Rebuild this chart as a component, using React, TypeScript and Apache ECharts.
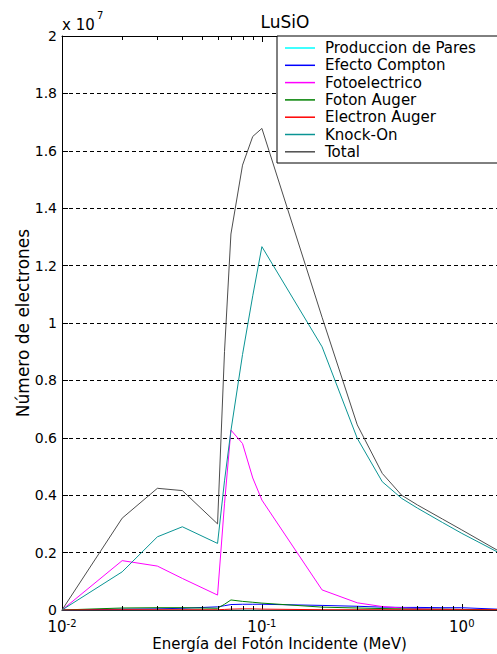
import React, { useEffect, useRef } from "react";
import * as echarts from "echarts";

const FONT = "DejaVu Sans";

const energies = [0.01, 0.02, 0.03, 0.04, 0.06, 0.065, 0.07, 0.08, 0.09, 0.1, 0.2, 0.3, 0.4, 0.5, 0.6, 0.8, 1.0, 1.5];

// values in units of 10^7 electrons
const produccionPares = [0, 0, 0, 0, 0, 0, 0, 0, 0, 0, 0, 0, 0, 0, 0, 0, 0, 0.001];
const efectoCompton = [0, 0.003, 0.004, 0.006, 0.011, 0.015, 0.019, 0.02, 0.02, 0.02, 0.016, 0.013, 0.01, 0.009, 0.009, 0.008, 0.008, 0.003];
const fotoelectrico = [0, 0.172, 0.153, 0.11, 0.052, 0.37, 0.627, 0.58, 0.46, 0.383, 0.07, 0.025, 0.012, 0.007, 0.005, 0.003, 0.002, 0.001];
const fotonAuger = [0, 0.007, 0.008, 0.008, 0.006, 0.02, 0.035, 0.03, 0.027, 0.024, 0.01, 0.007, 0.005, 0.004, 0.003, 0.003, 0.002, 0.001];
const electronAuger = [0, 0.001, 0.001, 0.001, 0.001, 0.002, 0.003, 0.004, 0.004, 0.003, 0.001, 0.001, 0.001, 0.001, 0.001, 0.001, 0.001, 0.001];
const knockOn = [0, 0.133, 0.255, 0.29, 0.232, 0.45, 0.625, 0.89, 1.095, 1.266, 0.917, 0.598, 0.447, 0.389, 0.355, 0.305, 0.267, 0.203];
const total = [0, 0.32, 0.424, 0.416, 0.3, 0.9, 1.31, 1.55, 1.65, 1.678, 1.02, 0.645, 0.476, 0.4, 0.366, 0.317, 0.279, 0.209];

const seriesNames = ["Produccion de Pares", "Efecto Compton", "Fotoelectrico", "Foton Auger", "Electron Auger", "Knock-On", "Total"];
const seriesValues = [produccionPares, efectoCompton, fotoelectrico, fotonAuger, electronAuger, knockOn, total];
const seriesColors = ["#00ffff", "#0000ff", "#ff00ff", "#008000", "#ff0000", "#0a9494", "#4d4d4d"];

const minorTickValues = [0.02, 0.03, 0.04, 0.05, 0.06, 0.07, 0.08, 0.09, 0.2, 0.3, 0.4, 0.5, 0.6, 0.7, 0.8, 0.9];

const SCALE = 1e7;
const X_MIN = 0.01;
const X_MAX = 1.5;
const Y_MAX = 2e7;
const Y_STEP = 2e6;

function expLabel(v: number): string {
  const e = Math.log10(v);
  if (Math.abs(e - Math.round(e)) > 1e-6) return "";
  return `{b|10}{s|${Math.round(e)}}`;
}

export default function App() {
  const ref = useRef<HTMLDivElement>(null);
  useEffect(() => {
    if (!ref.current) return;
    const chart = echarts.init(ref.current, undefined, { renderer: "svg" });
    const lineSeries = seriesNames.map((name, i) => ({
      name,
      type: "line",
      symbol: "none",
      color: seriesColors[i],
      itemStyle: { color: seriesColors[i] },
      lineStyle: { width: 1, color: seriesColors[i] },
      data: energies.map((e, j) => [e, seriesValues[i][j] * SCALE]),
      z: 3 + i,
    }));
    chart.setOption({
      animation: false,
      backgroundColor: "#ffffff",
      title: {
        text: "LuSiO",
        left: 280,
        top: 8,
        textAlign: "center",
        textStyle: { fontFamily: FONT, fontSize: 17, fontWeight: "normal", color: "#000" },
      },
      graphic: [
        {
          type: "text",
          left: 62,
          top: 17,
          style: { text: "x 10", font: `15px "${FONT}"`, fill: "#000" },
        },
        {
          type: "text",
          left: 97,
          top: 10,
          style: { text: "7", font: `10px "${FONT}"`, fill: "#000" },
        },
      ],
      grid: { left: 62, right: 0, top: 36, bottom: 44, containLabel: false, outerBoundsMode: "none" },
      legend: {
        data: seriesNames,
        orient: "vertical",
        left: 277,
        top: 36,
        itemWidth: 30,
        itemHeight: 15,
        itemGap: 2.3,
        icon: "path://M0,0H30V1.5H0Z",
        padding: [4.5, 24.5, 3.7, 8],
        backgroundColor: "#ffffff",
        borderColor: "#000",
        borderWidth: 1,
        borderRadius: 0,
        textStyle: { fontFamily: FONT, fontSize: 15, color: "#000", padding: [0, 0, 0, 5] },
        z: 20,
      },
      xAxis: [
        {
          type: "log",
          logBase: 10,
          min: X_MIN,
          max: X_MAX,
          position: "bottom",
          name: "Energía del Fotón Incidente (MeV)",
          nameLocation: "middle",
          nameGap: 26,
          nameMoveOverlap: false,
          nameTextStyle: { fontFamily: FONT, fontSize: 15, color: "#000" },
          axisLine: { show: true, lineStyle: { color: "#000", width: 1 } },
          axisTick: { show: true, inside: true, length: 6, lineStyle: { color: "#000" } },
          splitLine: { show: false },
          axisLabel: {
            margin: 8,
            formatter: (v: number) => expLabel(v),
            rich: {
              b: { fontFamily: FONT, fontSize: 15, lineHeight: 18, color: "#000" },
              s: { fontFamily: FONT, fontSize: 10, lineHeight: 10, verticalAlign: "top", color: "#000" },
            },
          },
        },
        {
          type: "log",
          logBase: 10,
          min: X_MIN,
          max: X_MAX,
          position: "top",
          axisLine: { show: true, lineStyle: { color: "#000", width: 1 } },
          axisTick: { show: true, inside: true, length: 6, lineStyle: { color: "#000" } },
          axisLabel: { show: false },
          splitLine: { show: false },
        },
      ],
      yAxis: {
        type: "value",
        min: 0,
        max: Y_MAX,
        interval: Y_STEP,
        name: "Número de electrones",
        nameLocation: "middle",
        nameGap: 31,
        nameMoveOverlap: false,
        nameTextStyle: { fontFamily: FONT, fontSize: 17, color: "#000" },
        axisLine: { show: true, lineStyle: { color: "#000", width: 1 } },
        axisTick: { show: true, inside: true, length: 6, lineStyle: { color: "#000" } },
        axisLabel: {
          margin: 5,
          fontFamily: FONT,
          fontSize: 14,
          color: "#000",
          formatter: (v: number) => String(Number((v / SCALE).toFixed(1))),
        },
        splitLine: { show: true, lineStyle: { color: "#000", width: 1, type: [4, 3] } },
      },
      series: [
        ...lineSeries,
        {
          name: "minorTicks",
          type: "custom",
          silent: true,
          z: 15,
          data: minorTickValues.map((v) => [v, 0]),
          encode: { x: 0, y: 1 },
          renderItem: (params: any, api: any) => {
            const pt = api.coord([api.value(0), 0]);
            const cs = params.coordSys;
            const x = Math.round(pt[0]) + 0.5;
            const yb = cs.y + cs.height;
            const yt = cs.y;
            return {
              type: "group",
              children: [
                { type: "line", shape: { x1: x, y1: yb, x2: x, y2: yb - 4 }, style: { stroke: "#000", lineWidth: 1 } },
                { type: "line", shape: { x1: x, y1: yt, x2: x, y2: yt + 4 }, style: { stroke: "#000", lineWidth: 1 } },
              ],
            };
          },
        },
      ],
    });
    return () => chart.dispose();
  }, []);
  return <div ref={ref} style={{ position: "fixed", left: 0, top: 0, width: 497, height: 654 }} />;
}
